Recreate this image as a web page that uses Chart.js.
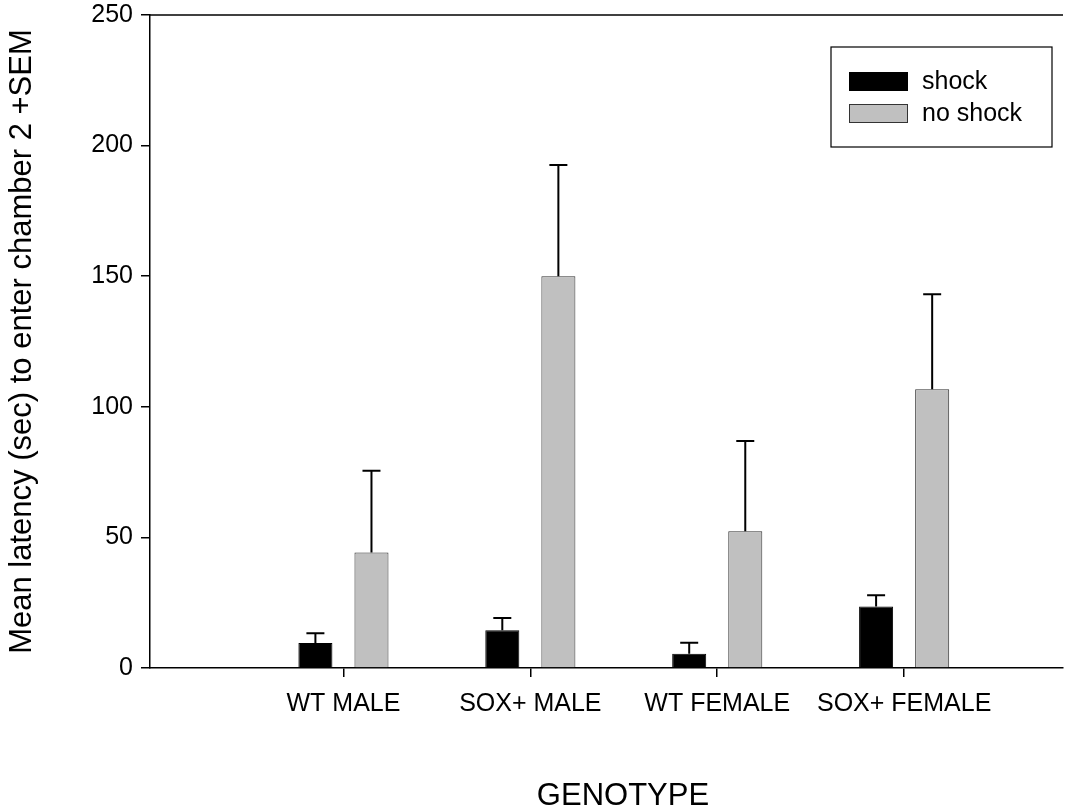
<!DOCTYPE html>
<html>
<head>
<meta charset="utf-8">
<script src="https://cdn.jsdelivr.net/npm/chart.js@4.4.1/dist/chart.umd.min.js"></script>
<style>
    html, body { margin: 0; padding: 0; background: #fff; }
</style>
</head>
<body>
<canvas id="chart" width="1090" height="808"></canvas>
<script>
// data
const genotypes = ['WT MALE', 'SOX+ MALE', 'WT FEMALE', 'SOX+ FEMALE'];
const seriesNames = ['shock', 'no shock'];
const shockMean = [9.6, 14.5, 5.5, 23.5];
const shockSem = [3.7, 4.6, 4.2, 4.4];
const noShockMean = [44.2, 150.0, 52.4, 106.7];
const noShockSem = [31.3, 42.6, 34.5, 36.4];
const yTicks = [0, 50, 100, 150, 200, 250];

const FONT = "'Liberation Sans', Arial, sans-serif";

// error bars (+SEM only, cap on top)
const errorBars = {
    id: 'errorBars',
    afterDatasetsDraw(chart) {
        const ctx = chart.ctx;
        const yScale = chart.scales.y;
        chart.data.datasets.forEach((ds, di) => {
            const meta = chart.getDatasetMeta(di);
            meta.data.forEach((bar, i) => {
                const top = yScale.getPixelForValue(ds.data[i].y + ds.sem[i]);
                ctx.save();
                ctx.strokeStyle = '#000';
                ctx.lineWidth = 2;
                ctx.beginPath();
                ctx.moveTo(bar.x, bar.y);
                ctx.lineTo(bar.x, top);
                ctx.moveTo(bar.x - 9, top);
                ctx.lineTo(bar.x + 9, top);
                ctx.stroke();
                ctx.restore();
            });
        });
    }
};

// top frame line, boxed legend and x title
const decorations = {
    id: 'decorations',
    afterDraw(chart) {
        const ctx = chart.ctx;
        const area = chart.chartArea;
        ctx.save();
        ctx.strokeStyle = '#000';
        ctx.lineWidth = 1.5;
        ctx.beginPath();
        ctx.moveTo(area.left, area.top);
        ctx.lineTo(area.right, area.top);
        ctx.stroke();

        // legend box
        ctx.lineWidth = 1.2;
        ctx.strokeRect(831, 47, 221, 100);
        chart.data.datasets.forEach((ds, i) => {
            const y = 72 + i * 32;
            ctx.fillStyle = ds.backgroundColor;
            ctx.fillRect(849, y, 59, 19);
            ctx.strokeStyle = ds.borderColor;
            ctx.lineWidth = 1;
            ctx.strokeRect(849.5, y + 0.5, 58, 18);
            ctx.fillStyle = '#000';
            ctx.font = '25px ' + FONT;
            ctx.textBaseline = 'middle';
            ctx.textAlign = 'left';
            ctx.fillText(ds.label, 922, y + 10);
        });

        ctx.font = '31px ' + FONT;
        ctx.fillStyle = '#000';
        ctx.textAlign = 'center';
        ctx.textBaseline = 'alphabetic';
        ctx.fillText('GENOTYPE', 623, 805);
        ctx.restore();
    }
};

new Chart(document.getElementById('chart'), {
    type: 'bar',
    data: {
        datasets: [
            {
                label: seriesNames[0],
                data: genotypes.map((g, i) => ({ x: i + 1, y: shockMean[i] })),
                sem: shockSem,
                backgroundColor: '#000000',
                borderColor: '#000000',
                borderWidth: 1
            },
            {
                label: seriesNames[1],
                data: genotypes.map((g, i) => ({ x: i + 1, y: noShockMean[i] })),
                sem: noShockSem,
                backgroundColor: '#c0c0c0',
                borderColor: '#333333',
                borderWidth: 1
            }
        ]
    },
    options: {
        responsive: false,
        animation: false,
        categoryPercentage: 0.6,
        barPercentage: 0.607,
        layout: { padding: { top: 15, right: 27, left: 0, bottom: 0 } },
        plugins: {
            legend: { display: false },
            tooltip: { enabled: false }
        },
        scales: {
            x: {
                type: 'linear',
                offset: false,
                min: -0.035,
                max: 4.85,
                afterBuildTicks: (scale) => {
                    scale.ticks = genotypes.map((g, i) => ({ value: i + 1 }));
                },
                afterFit: (scale) => {
                    scale.height = 140;
                    scale.paddingLeft = 0;
                    scale.paddingRight = 0;
                },
                ticks: {
                    autoSkip: false,
                    maxRotation: 0,
                    padding: 12,
                    color: '#000',
                    font: { family: FONT, size: 25 },
                    callback: (v) => genotypes[v - 1]
                },
                grid: {
                    display: true,
                    offset: false,
                    drawOnChartArea: false,
                    drawTicks: true,
                    tickLength: 9,
                    color: '#000',
                    lineWidth: 1.5
                },
                border: { display: true, color: '#000', width: 1.5 }
            },
            y: {
                min: 0,
                max: 250,
                afterBuildTicks: (scale) => {
                    scale.ticks = yTicks.map(v => ({ value: v }));
                },
                afterFit: (scale) => {
                    scale.width = 150;
                    scale.paddingTop = 0;
                    scale.paddingBottom = 0;
                },
                ticks: {
                    padding: 8,
                    color: '#000',
                    font: { family: FONT, size: 25 }
                },
                grid: {
                    display: true,
                    drawOnChartArea: false,
                    drawTicks: true,
                    tickLength: 9,
                    color: '#000',
                    lineWidth: 1.5
                },
                border: { display: true, color: '#000', width: 1.5 },
                title: {
                    display: true,
                    text: 'Mean latency (sec) to enter chamber 2 +SEM',
                    color: '#000',
                    font: { family: FONT, size: 31 },
                    padding: { top: 4, bottom: 0 }
                }
            }
        }
    },
    plugins: [errorBars, decorations]
});
</script>
</body>
</html>
